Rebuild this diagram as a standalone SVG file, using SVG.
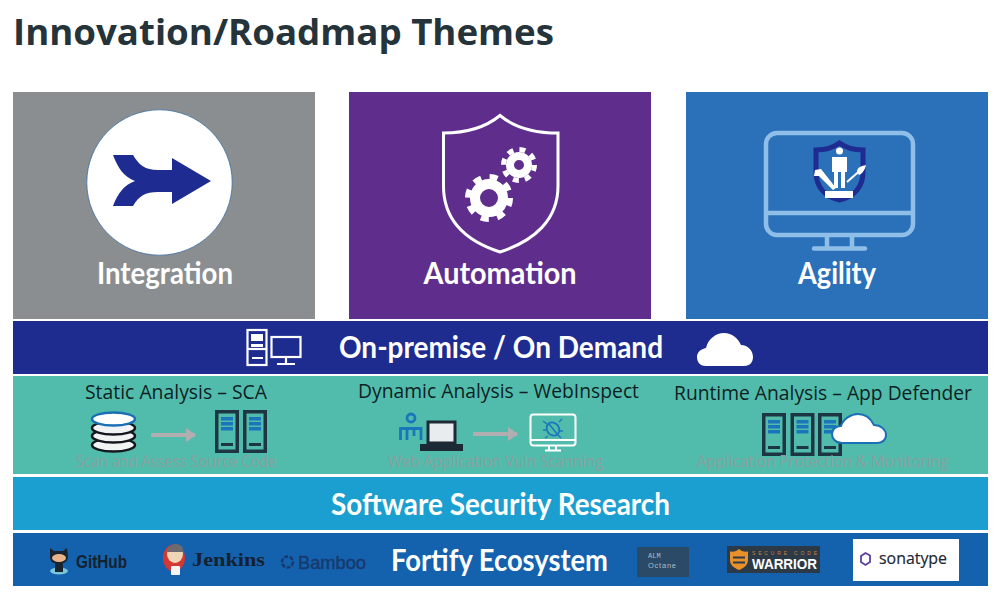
<svg xmlns="http://www.w3.org/2000/svg" width="1000" height="601" viewBox="0 0 1000 601">
<style>
.hd{font-family:"Lato","Liberation Sans",sans-serif;font-weight:700;fill:#fff}
.sub{font-family:"Open Sans","Noto Sans",sans-serif;font-size:19.500px;fill:#0d1f24}
.cap{font-family:"Open Sans","Noto Sans",sans-serif;font-size:15.500px;fill:#86a09f}
.srv{fill:none;stroke:#1c3644;stroke-width:3.500}
.bar{fill:#1b75bb}
.foot{fill:#1c3644}
.flow{stroke:#b0aeb0;stroke-width:4;fill:none;marker-end:url(#ah)}
</style>
<defs>
<marker id="ah" markerUnits="userSpaceOnUse" markerWidth="10" markerHeight="14" refX="9" refY="7" orient="auto"><path d="M0 0L10 7L0 14Z" fill="#b0aeb0"/></marker>
<g id="server">
<rect class="srv" x="1.750" y="1.750" width="20.500" height="39.500"/>
<rect class="bar" x="6" y="7" width="12" height="3.500"/><rect class="bar" x="6" y="12" width="12" height="3.500"/><rect class="bar" x="6" y="17" width="12" height="3.500"/>
<rect class="foot" x="6" y="33" width="12" height="3"/>
</g>
</defs>
<rect width="1000" height="601" fill="#fff"/>
<text id="title" x="13" y="45" font-family="'Open Sans','Noto Sans',sans-serif" font-weight="700" font-size="36" fill="#25333a" textLength="541" lengthAdjust="spacingAndGlyphs">Innovation/Roadmap Themes</text>

<g id="integration">
<rect x="13" y="92" width="302" height="227" fill="#8a8e90"/>
<circle cx="159.500" cy="182.500" r="72.700" fill="#fff" stroke="#3a6ea5" stroke-width=".8"/>
<path d="M113 155H133C139 165 145 170 158 170H172V158L211 181L172 204V192H158C145 192 139 196 133 206H113C118 193 124 185 135 181C124 177 118 168 113 155Z" fill="#1e2b90"/>
<text class="hd" x="165" y="284" font-size="30" text-anchor="middle" textLength="136" lengthAdjust="spacingAndGlyphs">Integration</text>
</g>

<g id="automation">
<rect x="349" y="92" width="302" height="227" fill="#5f2e8c"/>
<path d="M500 115.500C486 127 468 133 443.500 133V186C443.500 220 466 241 500 252C534 241 558 220 558 186V133C532 133 514 127 500 115.500Z" fill="none" stroke="#fff" stroke-width="3"/>
<circle cx="489" cy="198" r="14" fill="none" stroke="#fff" stroke-width="10"/>
<circle cx="489" cy="198" r="21" fill="none" stroke="#fff" stroke-width="6" stroke-dasharray="8 8.490"/>
<circle cx="519" cy="165" r="9" fill="none" stroke="#fff" stroke-width="8"/>
<circle cx="519" cy="165" r="15.500" fill="none" stroke="#fff" stroke-width="5" stroke-dasharray="6 6.170"/>
<text class="hd" x="500" y="284" font-size="30" text-anchor="middle" textLength="153" lengthAdjust="spacingAndGlyphs">Automation</text>
</g>

<g id="agility">
<rect x="686" y="92" width="302" height="227" fill="#2a71ba"/>
<g fill="none" stroke="#8fbfe8" stroke-width="4.500">
<rect x="766" y="133" width="147" height="102" rx="11"/>
<path d="M766 213H913M827 236V248M852 236V248"/>
<path d="M814 248.500H865" stroke-linecap="round"/>
</g>
<path d="M839.500 143C834 147 827 150 816 150V172C816 187 825 197 839.500 200C854 197 863 187 863 172V150C852 150 845 147 839.500 143Z" fill="#2a71ba" stroke="#1e2b90" stroke-width="5"/>
<circle cx="839.500" cy="151" r="3.500" fill="#fff"/>
<path d="M832 157H847V172H845V188H841V172H838V188H834V172H832Z" fill="#fff"/>
<path d="M815 170L821 169L836 188L833 190L819 176L814 176Z" fill="#fff"/>
<path d="M847 182L864 167" stroke="#fff" stroke-width="2"/>
<path d="M857 172C857 167 862 166 866 165C865 170 862 174 859 175Z" fill="#fff"/>
<rect x="825" y="191" width="28" height="7" fill="#fff"/>
<text class="hd" x="837" y="284" font-size="30" text-anchor="middle" textLength="78" lengthAdjust="spacingAndGlyphs">Agility</text>
</g>

<g id="on-premise">
<rect x="13" y="321" width="975" height="53" fill="#1e2b8f"/>
<g fill="none" stroke="#fff" stroke-width="2.200">
<rect x="247.500" y="330" width="19" height="35"/>
<path d="M247.500 349H266.500"/>
<rect x="271.500" y="337" width="29" height="20"/>
<path d="M286 357V363M277 364H295"/>
</g>
<rect x="251" y="334" width="12" height="7" fill="#fff"/><rect x="251" y="344" width="12" height="3" fill="#fff"/><rect x="252" y="357" width="11" height="2" fill="#fff"/>
<text class="hd" x="501" y="358" font-size="31" text-anchor="middle" textLength="324" lengthAdjust="spacingAndGlyphs">On-premise / On Demand</text>
<path d="M706 366C699 366 697 361 697 357C697 352 701 349 706 348C708 339 716 333 724 333C732 333 738 338 741 345C748 345 753 351 753 357C753 362 750 366 744 366Z" fill="#fff"/>
</g>

<g id="analysis">
<rect x="13" y="376" width="975" height="98" fill="#52bcac"/>
</g>
<g id="static-analysis">
<text class="sub" x="176" y="399" text-anchor="middle" textLength="182" lengthAdjust="spacingAndGlyphs">Static Analysis – SCA</text>
<g stroke="#14181c" stroke-width="2.500" fill="#f1f3f5">
<ellipse cx="113.500" cy="445" rx="21.500" ry="6.500"/>
<ellipse cx="113.500" cy="436" rx="21.500" ry="6.500"/>
<ellipse cx="113.500" cy="428" rx="21.500" ry="6.500"/>
<ellipse cx="113.500" cy="419" rx="21.500" ry="6.500" fill="#fff" stroke="#1b6fb5"/>
</g>
<use href="#server" x="215" y="410"/><use href="#server" x="243" y="410"/>
<text class="cap" x="176" y="467" text-anchor="middle" textLength="201" lengthAdjust="spacingAndGlyphs">Scan and Assess Source Code</text>
</g>
<g id="dynamic-analysis">
<text class="sub" x="498.500" y="398" text-anchor="middle" textLength="281" lengthAdjust="spacingAndGlyphs">Dynamic Analysis – WebInspect</text>
<circle cx="411" cy="418" r="4" fill="none" stroke="#1b75bb" stroke-width="2.800"/>
<path d="M400.500 440V428.500H421V440M407 428.500V440M414 428.500V436" fill="none" stroke="#1b75bb" stroke-width="2.800"/>
<rect x="428" y="422" width="27" height="21" fill="#e9ecee" stroke="#1c2a36" stroke-width="3"/>
<rect x="420" y="444" width="43" height="7" fill="#1c2a36"/>
<rect x="530.500" y="414.500" width="45" height="31" rx="3" fill="none" stroke="#fff" stroke-width="2"/>
<path d="M531 440H575M549 446V450M556 446V450M545 450.500H561" fill="none" stroke="#fff" stroke-width="2"/>
<ellipse cx="553" cy="429" rx="6" ry="7" fill="none" stroke="#1b75bb" stroke-width="1.800" transform="rotate(-35 553 429)"/>
<path d="M547 424L543 421M559 422L562 419M546 430H543M560 431H563M548 436L545 438M558 435L561 438M549 424L558 435" fill="none" stroke="#1b75bb" stroke-width="1.400"/>
<text class="cap" x="495.500" y="467" text-anchor="middle" textLength="215" lengthAdjust="spacingAndGlyphs">Web Application Vuln Scanning</text>
</g>
<g id="runtime-analysis">
<text class="sub" x="823" y="400" text-anchor="middle" textLength="298" lengthAdjust="spacingAndGlyphs">Runtime Analysis – App Defender</text>
<use href="#server" x="762" y="413"/><use href="#server" x="790.500" y="413"/><use href="#server" x="818" y="413"/>
<path d="M842 443C835 443 832 438 832 434C832 429 836 426 841 426C843 419 851 414 858 414C866 414 871 419 874 425C881 425 886 430 886 435C886 440 882 443 877 443Z" fill="#fff" stroke="#1b6fb5" stroke-width="2"/>
<text class="cap" x="822.500" y="467" text-anchor="middle" textLength="251" lengthAdjust="spacingAndGlyphs">Application Protection &amp; Monitoring</text>
</g>
<g id="connectors">
<path class="flow" d="M151 435H195"/>
<path class="flow" d="M473 434H517"/>
</g>

<g id="research">
<rect x="13" y="477" width="975" height="53" fill="#1b9fd0"/>
<text class="hd" x="500.500" y="515" font-size="31" text-anchor="middle" textLength="339" lengthAdjust="spacingAndGlyphs">Software Security Research</text>
</g>

<g id="ecosystem">
<rect x="13" y="533" width="975" height="53" fill="#1461ae"/>
<text class="hd" x="499.500" y="571" font-size="31" text-anchor="middle" textLength="217" lengthAdjust="spacingAndGlyphs">Fortify Ecosystem</text>
</g>
<g id="github">
<ellipse cx="59" cy="571" rx="9" ry="3.500" fill="#7cc4d8"/>
<path d="M50 548L54 551H63L67 548L68 556C68 561 65 563 63 563V572H55V563C52 563 50 561 50 556Z" fill="#1a2430"/>
<ellipse cx="59" cy="558" rx="7" ry="4" fill="#e8b48c"/>
<text x="76" y="568" font-family="'Liberation Sans',sans-serif" font-weight="700" font-size="18" fill="#14222e" textLength="51" lengthAdjust="spacingAndGlyphs">GitHub</text>
</g>
<g id="jenkins">
<ellipse cx="174" cy="558" rx="11" ry="13.500" fill="#d33833"/>
<ellipse cx="175" cy="554" rx="8" ry="9" fill="#f0d6b7"/>
<path d="M167 552C168 546 172 544 176 544C181 544 184 548 183 552Z" fill="#6d6b6d"/>
<rect x="171" y="566" width="9" height="9" rx="1" fill="#f4f4f4"/>
<text x="192" y="566" font-family="'Liberation Serif',serif" font-weight="700" font-size="19" fill="#14222e" textLength="73" lengthAdjust="spacingAndGlyphs">Jenkins</text>
</g>
<g id="bamboo">
<circle cx="287.500" cy="562" r="5.500" fill="none" stroke="#173a6e" stroke-width="2.500" stroke-dasharray="4 1.500"/>
<text x="298" y="569" font-family="'Liberation Sans',sans-serif" font-size="18.500" fill="#173a6e" stroke="#173a6e" stroke-width=".4" textLength="68" lengthAdjust="spacingAndGlyphs">Bamboo</text>
</g>
<g id="alm-octane">
<rect x="637" y="547" width="52" height="30" fill="#2a4a68"/>
<text x="648" y="558" font-family="'Liberation Mono',monospace" font-size="7" fill="#a9bccb">ALM</text>
<text x="648" y="568" font-family="'Liberation Sans',sans-serif" font-size="7.500" fill="#a9bccb" textLength="28">Octane</text>
</g>
<g id="secure-code-warrior">
<rect x="727" y="546" width="93" height="27" fill="#2c3a48"/>
<path d="M730 551.500C734 552 737 551 739 549C741 551 744 552 748 551.500V560C748 565 744 568 739 570C734 568 730 565 730 560Z" fill="#e8912a"/>
<path d="M733 557.500H745M733 562.500H745" stroke="#2c3a48" stroke-width="2"/>
<text x="752" y="555" font-family="'Liberation Sans',sans-serif" font-size="5" fill="#c9803a" textLength="65">SECURE CODE</text>
<text x="752" y="569" font-family="'Liberation Sans',sans-serif" font-weight="700" font-size="14" fill="#fff" textLength="65" lengthAdjust="spacingAndGlyphs">WARRIOR</text>
</g>
<g id="sonatype">
<rect x="853" y="539" width="106" height="42" fill="#fff"/>
<path d="M870 555.500V562L865.500 565L861 562V556L865.500 553Z" fill="none" stroke="#5b3fa0" stroke-width="1.800"/>
<text x="879" y="564" font-family="'Open Sans','Noto Sans',sans-serif" font-size="17" fill="#1b2733" stroke="#1b2733" stroke-width=".2" textLength="68" lengthAdjust="spacingAndGlyphs">sonatype</text>
</g>
</svg>
